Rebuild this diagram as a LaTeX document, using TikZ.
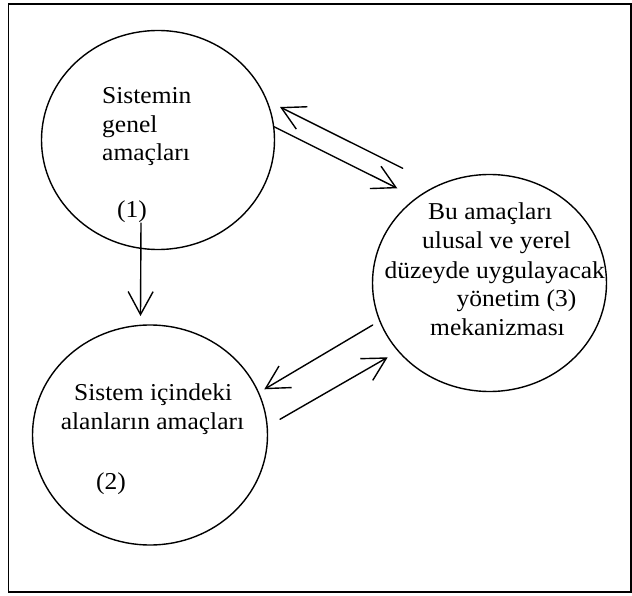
\documentclass[tikz,border=0pt]{standalone}
\usepackage{fontspec}
\setmainfont{Liberation Serif}
\usetikzlibrary{shapes.geometric,arrows.meta}
\tikzset{
  bubble/.style={draw, ellipse, inner sep=0pt, line width=1.4pt},
  lbl/.style={anchor=base west, inner sep=0pt, yscale=0.95,
    font=\fontsize{25.5pt}{30pt}\selectfont},
  link/.style={line width=1.4pt, line cap=round,
    -{Straight Barb[length=23pt,width=25pt,line width=1.4pt]}},
  framebox/.style={line width=1.5pt}
}
\begin{document}
\begin{tikzpicture}[x=1pt,y=-1pt]
\useasboundingbox (0,0) rectangle (632,596);
\draw[framebox] (8.7,3.8) rectangle (631,592);
% circles
\node[bubble, minimum width=233pt, minimum height=219pt] (c1) at (158,140) {};
\node[bubble, minimum width=235pt, minimum height=220pt] (c2) at (150,435) {};
\node[bubble, minimum width=234pt, minimum height=217pt] (c3) at (489.5,283) {};
% texts circle 1
\node[lbl] (t11) at (102,104) {Sistemin};
\node[lbl] (t12) at (102,132.5) {genel};
\node[lbl] (t13) at (102,161) {amaçları};
\node[lbl] (t14) at (117,217.5) {(1)};
% texts circle 2
\node[lbl] (t21) at (74,400) {Sistem içindeki};
\node[lbl] (t22) at (60.6,429.3) {alanların amaçları};
\node[lbl] (t23) at (96,489) {(2)};
% texts circle 3
\node[lbl] (t31) at (428,220) {Bu amaçları};
\node[lbl] (t32) at (422,249) {ulusal ve yerel};
\node[lbl] (t33) at (384.5,278) {düzeyde uygulayacak};
\node[lbl] (t34) at (456.5,306.5) {yönetim (3)};
\node[lbl] (t35) at (430,335) {mekanizması};
% connector end points
\coordinate (aS) at (402.7,168.3);
\coordinate (aE) at (280,107);
\coordinate (bS) at (274,126.7);
\coordinate (bE) at (397.3,188.3);
\coordinate (cS) at (141,223);
\coordinate (cE) at (140.5,316);
\coordinate (dS) at (372.7,325);
\coordinate (dE) at (264.3,389.3);
\coordinate (eS) at (280,419.3);
\coordinate (eE) at (387.7,357.3);
\draw[link] (aS) -- (aE);
\draw[link] (bS) -- (bE);
\draw[link] (cS) -- (cE);
\draw[link] (dS) -- (dE);
\draw[link] (eS) -- (eE);
\end{tikzpicture}
\end{document}
